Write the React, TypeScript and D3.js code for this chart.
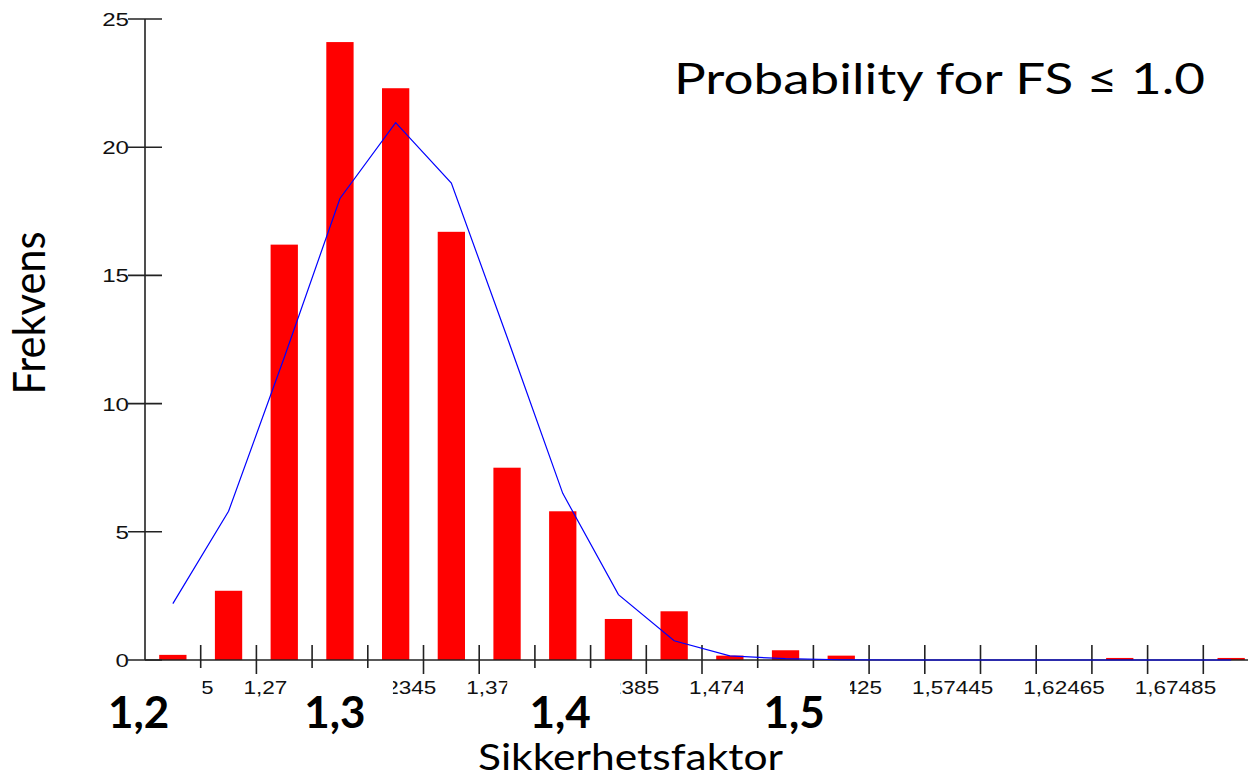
import React from 'react';
import * as d3 from 'd3';

// histogram bins (centre of each class) and counts
const binCenters = [
  1.22305, 1.24815, 1.27325, 1.29835, 1.32345, 1.34855, 1.37365, 1.39875, 1.42385, 1.44895,
  1.47405, 1.49915, 1.52425, 1.54935, 1.57445, 1.59955, 1.62465, 1.64975, 1.67485, 1.69995,
];
const frequency = [
  0.2, 2.7, 16.2, 24.1, 22.3, 16.7, 7.5, 5.8, 1.6, 1.9,
  0.17, 0.38, 0.17, 0, 0, 0, 0, 0.08, 0, 0.08,
];
const fitted = [
  2.2, 5.8, 11.8, 18.0, 20.96, 18.6, 12.6, 6.5, 2.55, 0.75,
  0.16, 0.05, 0.01, 0, 0, 0, 0, 0, 0, 0,
];
const tickLabels = [
  '1,22305', '1,27325', '1,32345', '1,37365', '1,42385',
  '1,47405', '1,52425', '1,57445', '1,62465', '1,67485',
];
const yTicks = [0, 5, 10, 15, 20, 25];
const bigLabels = ['1,2', '1,3', '1,4', '1,5'];
const bigLabelAt = [1.2076, 1.2961, 1.3976, 1.503];
// white patch behind each big label (left / right of the label centre)
const patchLeft = [50, 48, 53, 51];
const patchRight = [64, 58, 60, 56];

const binWidth = 0.0251;
const axisColor = '#222';
const stretch = 1.27; // chart picture was stretched sideways

const App = () => {
  const x = d3
    .scaleLinear()
    .domain([binCenters[0] - binWidth / 2, binCenters[binCenters.length - 1] + binWidth / 2])
    .range([145, 1259]);
  const y = d3.scaleLinear().domain([0, 25]).range([660, 19]);

  const binPx = x(binWidth) - x(0);
  const barW = binPx * 0.49;
  const edges = binCenters.slice(1).map((c) => c - binWidth / 2);

  const line = d3
    .line<number>()
    .x((d, i) => x(binCenters[i]))
    .y((d) => y(d));

  const sans = '"Liberation Sans", Arial, sans-serif';
  const lato = 'Lato, "Open Sans", sans-serif';

  return (
    <svg
      width={1248}
      height={784}
      style={{ position: 'absolute', left: 0, top: 0, background: '#fff' }}
    >
      <rect width={1248} height={784} fill="#fff" />

      {/* bars */}
      {frequency.map((f, i) => (
        <rect
          key={i}
          x={x(binCenters[i]) - barW / 2}
          y={y(f)}
          width={barW}
          height={y(0) - y(f)}
          fill="#ff0000"
        />
      ))}

      {/* y axis */}
      <line x1={x.range()[0]} x2={x.range()[0]} y1={y(25)} y2={y(0)} stroke={axisColor} strokeWidth={1.6} />
      {yTicks.map((t) => (
        <g key={t}>
          <line x1={128} x2={162} y1={y(t)} y2={y(t)} stroke={axisColor} strokeWidth={1.6} />
          <text
            x={129}
            y={y(t) + 7}
            textAnchor="end"
            fontFamily={sans}
            fontSize={19}
            textLength={String(t).length * 0.556 * 19 * stretch}
            lengthAdjust="spacingAndGlyphs"
            fill="#111"
          >
            {t}
          </text>
        </g>
      ))}

      {/* x axis */}
      <line x1={x.range()[0]} x2={1248} y1={y(0)} y2={y(0)} stroke={axisColor} strokeWidth={1.6} />
      {edges.map((e, i) => (
        <line key={i} x1={x(e)} x2={x(e)} y1={645} y2={674} stroke={axisColor} strokeWidth={1.6} />
      ))}
      {tickLabels.map((l, i) => (
        <text
          key={l}
          x={x(binCenters[i * 2])}
          y={694}
          textAnchor="middle"
          fontFamily={sans}
          fontSize={17.7}
          textLength={81.5}
          lengthAdjust="spacingAndGlyphs"
          fill="#111"
        >
          {l}
        </text>
      ))}

      {/* fitted curve */}
      <path d={line(fitted) || ''} fill="none" stroke="#0000ff" strokeWidth={1.2} />

      {/* big overlay labels */}
      {bigLabels.map((l, i) => (
        <g key={l}>
          <rect
            x={x(bigLabelAt[i]) - patchLeft[i]}
            y={668}
            width={patchLeft[i] + patchRight[i]}
            height={72}
            fill="#fff"
          />
          <text
            x={x(bigLabelAt[i])}
            y={728}
            textAnchor="middle"
            fontFamily={lato}
            fontWeight="bold"
            fontSize={44}
            fill="#000"
          >
            {l}
          </text>
        </g>
      ))}

      <text
        x={674}
        y={94}
        fontFamily={lato}
        fontSize={43}
        textLength={531}
        lengthAdjust="spacingAndGlyphs"
        fill="#000"
      >
        Probability for FS ≤ 1.0
      </text>

      <text
        x={478}
        y={770}
        fontFamily={lato}
        fontSize={36}
        textLength={305}
        lengthAdjust="spacingAndGlyphs"
        fill="#000"
      >
        Sikkerhetsfaktor
      </text>

      <text
        transform="translate(45,313) rotate(-90)"
        textAnchor="middle"
        fontFamily={lato}
        fontSize={44}
        textLength={163}
        lengthAdjust="spacingAndGlyphs"
        fill="#000"
      >
        Frekvens
      </text>
    </svg>
  );
};

export default App;
